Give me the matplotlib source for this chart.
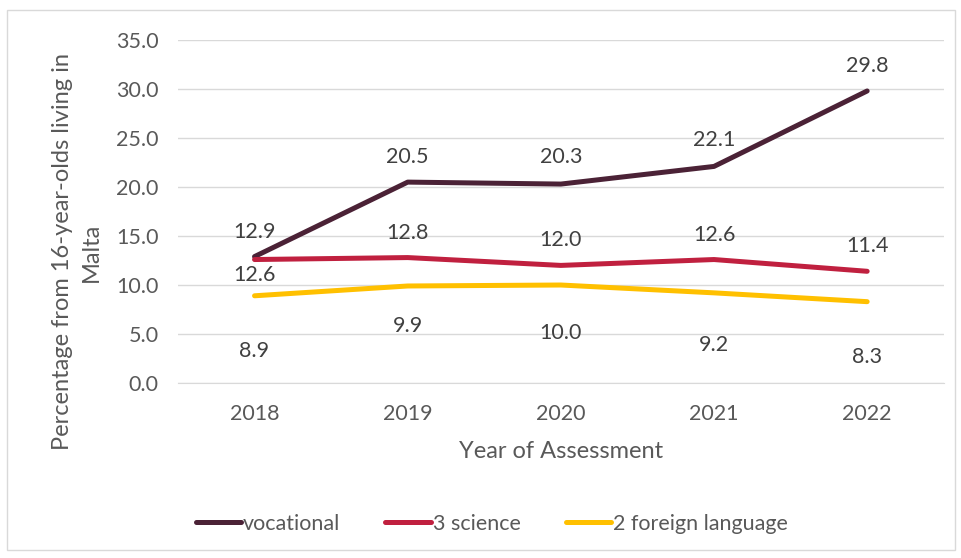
import matplotlib.pyplot as plt
from matplotlib.patches import Rectangle

plt.rcParams['font.family'] = ['Lato', 'DejaVu Sans']

years = ['2018', '2019', '2020', '2021', '2022']
vocational = [12.9, 20.5, 20.3, 22.1, 29.8]
science = [12.6, 12.8, 12.0, 12.6, 11.4]
foreign = [8.9, 9.9, 10.0, 9.2, 8.3]

# label offsets in pixels (positive = below the point)
voc_off = [-25, -25, -27, -26, -25]
sci_off = [15, -25, -25, -25, -25]
for_off = [55, 40, 48, 52, 55]

series = [
    ('vocational', vocational, '#4B2236', voc_off),
    ('3 science', science, '#C0203F', sci_off),
    ('2 foreign language', foreign, '#FFC000', for_off),
]

fig = plt.figure(figsize=(9.62, 5.58), dpi=100)
fig.patches.append(Rectangle((7 / 962, 8 / 558), 948 / 962, 540 / 558, transform=fig.transFigure,
                             fill=False, edgecolor='#D9D9D9', linewidth=1))
ax = fig.add_axes([0.185, 0.3136, 0.796, 0.6147])

x = list(range(len(years)))
for name, vals, col, offs in series:
    ax.plot(x, vals, color=col, linewidth=3.6, solid_capstyle='round', label=name)
    for xi, v, o in zip(x, vals, offs):
        ax.annotate(f'{v:.1f}', (xi, v), xytext=(0, -o), textcoords='offset pixels',
                    ha='center', va='center', fontsize=15.5, color='#404040')

ax.set_xlim(-0.5, len(years) - 0.5)
ax.set_ylim(0, 35)
ax.set_yticks([0, 5, 10, 15, 20, 25, 30, 35])
ax.set_yticklabels([f'{t:.1f}' for t in [0, 5, 10, 15, 20, 25, 30, 35]])
ax.set_xticks(x)
ax.set_xticklabels(years)
ax.grid(axis='y', color='#D9D9D9', linewidth=1)
ax.set_axisbelow(True)
for s in ['top', 'right', 'left']:
    ax.spines[s].set_visible(False)
ax.spines['bottom'].set_color('#D9D9D9')
ax.tick_params(length=0, labelsize=15.5, colors='#595959')
ax.tick_params(axis='y', pad=14)
ax.tick_params(axis='x', pad=15)

ax.set_xlabel('Year of Assessment', fontsize=17, color='#595959', labelpad=12)
ax.set_ylabel('Percentage from 16-year-olds living in\nMalta', fontsize=17, color='#595959',
              linespacing=1.5)
ax.yaxis.set_label_coords(-0.099, 0.382)

ax.legend(loc='center', bbox_to_anchor=(0.41, -0.41), ncol=3, frameon=False, fontsize=15.5,
          handlelength=2.1, handletextpad=0.1, columnspacing=2.1, labelcolor='#595959')

fig.savefig('out.png', dpi=100)
